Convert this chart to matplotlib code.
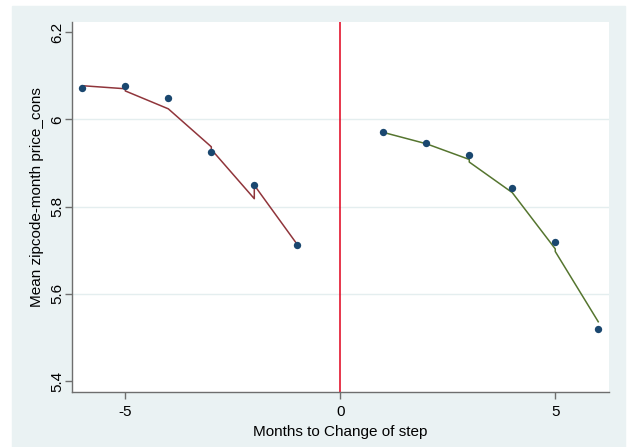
import matplotlib
matplotlib.use('Agg')
import matplotlib.pyplot as plt
from matplotlib.patches import Rectangle

plt.rcParams['font.family'] = ['Liberation Sans', 'DejaVu Sans']
plt.rcParams['axes.unicode_minus'] = False

# monthly means around the step change
months = [-6, -5, -4, -3, -2, -1, 1, 2, 3, 4, 5, 6]
mean_price = [6.072, 6.076, 6.048, 5.924, 5.849, 5.711,
              5.970, 5.945, 5.918, 5.843, 5.719, 5.520]

# fitted curves (repeated months give the small jogs)
fit_pre_x = [-6, -5, -5, -4, -3, -3, -2, -2, -1]
fit_pre_y = [6.077, 6.070, 6.065, 6.024, 5.937, 5.931, 5.818, 5.849, 5.713]
fit_post_x = [1, 2, 3, 3, 4, 5, 5, 6]
fit_post_y = [5.970, 5.944, 5.908, 5.902, 5.832, 5.703, 5.697, 5.536]

yticks = [5.4, 5.6, 5.8, 6.0, 6.2]
ytick_labels = ['5.4', '5.6', '5.8', '6', '6.2']
xticks = [-5, 0, 5]

bg = '#EAF2F3'
fig = plt.figure(figsize=(6.27, 4.47), dpi=100, facecolor='white')
fig.patches.append(Rectangle((12 / 627, 0), 613 / 627, 441 / 447,
                             transform=fig.transFigure, color=bg, zorder=-10))

ax = fig.add_axes([72 / 627, 55 / 447, 537 / 627, 370 / 447])
ax.set_facecolor('white')

for v in [5.6, 5.8, 6.0]:
    ax.axhline(v, color='#E4EEEF', lw=1.0, zorder=0)

ax.axvline(0, color='#E0001B', lw=1.1, zorder=1)
ax.plot(fit_pre_x, fit_pre_y, color='#90353B', lw=1.1, zorder=2)
ax.plot(fit_post_x, fit_post_y, color='#55752F', lw=1.1, zorder=2)
ax.scatter(months, mean_price, s=28, color='#1A476F', zorder=3, linewidths=0)

ax.set_xlim(-6.24, 6.25)
ax.set_ylim(5.375, 6.223)
ax.set_xticks(xticks)
ax.set_yticks(yticks)
ax.set_yticklabels(ytick_labels, rotation=90, va='center')

for s in ['top', 'right']:
    ax.spines[s].set_visible(False)
for s in ['left', 'bottom']:
    ax.spines[s].set_color('#6E6E6E')
    ax.spines[s].set_linewidth(1.0)
ax.tick_params(direction='out', length=5, width=1.0, color='#6E6E6E',
               labelsize=11, labelcolor='black', pad=4)
ax.tick_params(axis='y', pad=0.5)

ax.set_xlabel('Months to Change of step', fontsize=11, labelpad=5)
ax.set_ylabel('Mean zipcode-month price_cons', fontsize=11)
ax.yaxis.set_label_coords(-0.053, 0.526)

fig.savefig('out.png', dpi=100, facecolor='white')
